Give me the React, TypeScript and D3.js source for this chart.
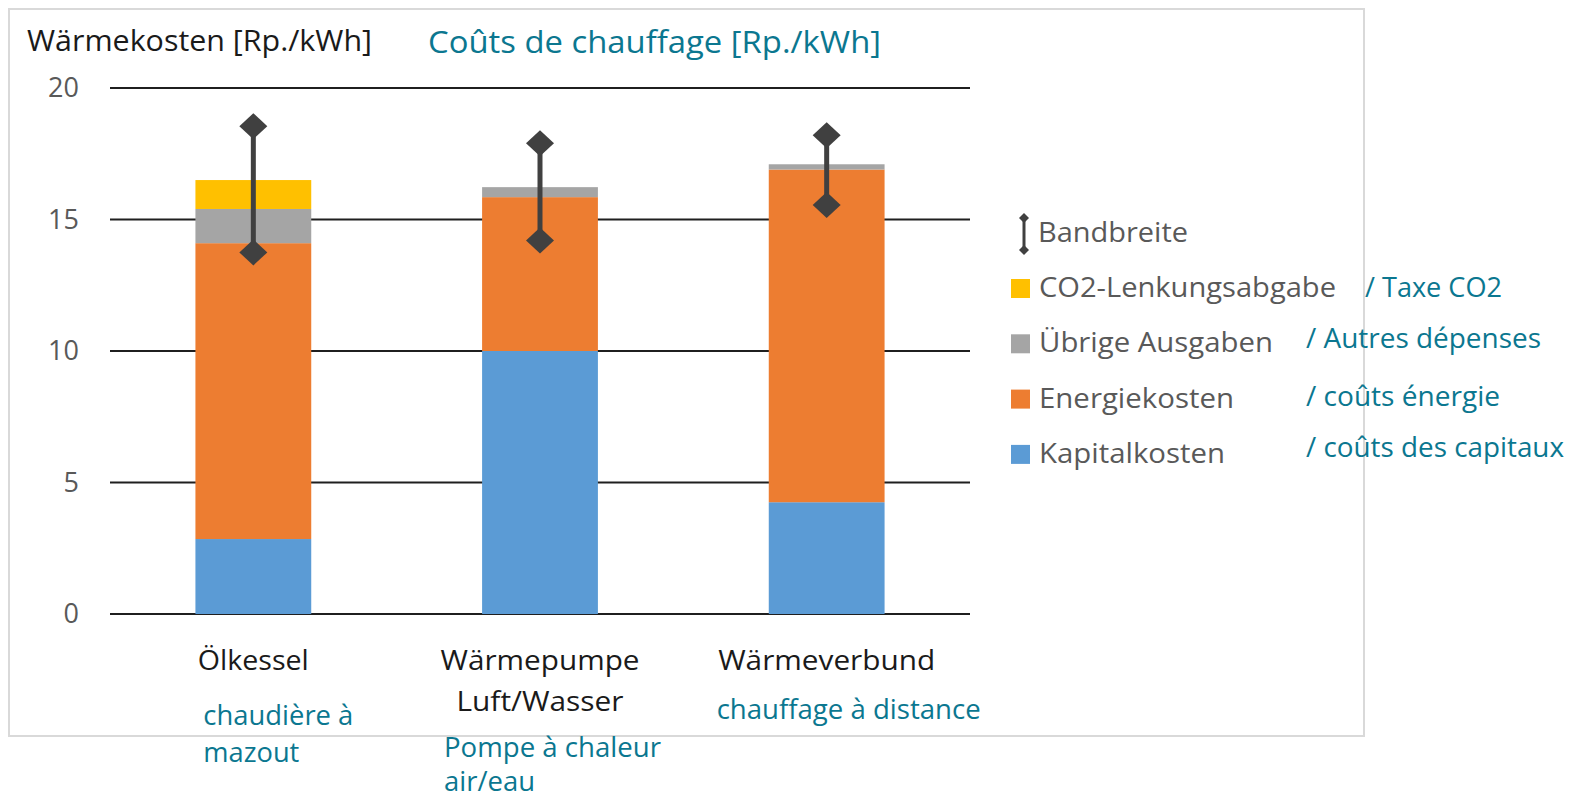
import React, { useEffect, useRef } from 'react';
import * as d3 from 'd3';

// values (Rp./kWh)
const categories = ['Ölkessel', 'Wärmepumpe Luft/Wasser', 'Wärmeverbund'];
const kapitalkosten = [2.85, 10.0, 4.25];
const energiekosten = [11.25, 5.85, 12.65];
const uebrigeAusgaben = [1.3, 0.38, 0.2];
const co2Abgabe = [1.1, 0, 0];
const bandLow = [13.75, 14.2, 15.55];
const bandHigh = [18.55, 17.9, 18.2];
const yTicks = [0, 5, 10, 15, 20];

const labelsDe = [['Ölkessel'], ['Wärmepumpe', 'Luft/Wasser'], ['Wärmeverbund']];
const labelsFr = [['chaudière à', 'mazout'], ['Pompe à chaleur', 'air/eau'], ['chauffage à distance']];

const seriesKeys = ['kapital', 'energie', 'uebrige', 'co2'];
const legendDe = ['CO2-Lenkungsabgabe', 'Übrige Ausgaben', 'Energiekosten', 'Kapitalkosten'];
const legendFr = ['/ Taxe CO2', '/ Autres dépenses', '/ coûts énergie', '/ coûts des capitaux'];

const colors: Record<string, string> = {
  kapital: '#5b9bd5',
  energie: '#ed7d31',
  uebrige: '#a5a5a5',
  co2: '#ffc000',
};
const legendKeys = ['co2', 'uebrige', 'energie', 'kapital'];

const TEAL = '#0b7790';
const GREY_TXT = '#595959';
const FONT = '"Open Sans", "Noto Sans", sans-serif';

export default function App() {
  const ref = useRef<SVGSVGElement>(null);

  useEffect(() => {
    const svg = d3.select(ref.current);
    svg.selectAll('*').remove();

    const width = 1584;
    const height = 800;
    const plot = { left: 110, right: 970, top: 88, bottom: 614 };

    svg.attr('width', width).attr('height', height);
    svg.append('rect').attr('width', width).attr('height', height).attr('fill', '#fff');

    // frame
    svg
      .append('rect')
      .attr('x', 9)
      .attr('y', 9)
      .attr('width', 1355)
      .attr('height', 727)
      .attr('fill', 'none')
      .attr('stroke', '#d9d9d9')
      .attr('stroke-width', 2);

    const x = d3
      .scaleBand<string>()
      .domain(categories)
      .range([plot.left, plot.right])
      .paddingInner(0.596)
      .paddingOuter(0.298);
    const y = d3.scaleLinear().domain([0, 20]).range([plot.bottom, plot.top]);

    // gridlines + tick labels
    const grid = svg.append('g');
    grid
      .selectAll('line')
      .data(yTicks)
      .join('line')
      .attr('x1', plot.left)
      .attr('x2', plot.right)
      .attr('y1', (d) => y(d))
      .attr('y2', (d) => y(d))
      .attr('stroke', '#1f1f1f')
      .attr('stroke-width', 2);
    grid
      .selectAll('text')
      .data(yTicks)
      .join('text')
      .attr('x', 79)
      .attr('y', (d) => y(d) + 9)
      .attr('text-anchor', 'end')
      .attr('font-family', FONT)
      .attr('font-size', 27)
      .attr('fill', GREY_TXT)
      .text((d) => d);

    // stacked bars
    const rows = categories.map((c, i) => ({
      cat: c,
      kapital: kapitalkosten[i],
      energie: energiekosten[i],
      uebrige: uebrigeAusgaben[i],
      co2: co2Abgabe[i],
    }));
    const stacked = d3.stack<any>().keys(seriesKeys)(rows);
    svg
      .append('g')
      .selectAll('g')
      .data(stacked)
      .join('g')
      .attr('fill', (s) => colors[s.key])
      .selectAll('rect')
      .data((s) => s)
      .join('rect')
      .attr('x', (d) => x(d.data.cat) as number)
      .attr('width', x.bandwidth())
      .attr('y', (d) => y(d[1]))
      .attr('height', (d) => Math.max(0, y(d[0]) - y(d[1])));

    // range bars (Bandbreite)
    const diamond = (cx: number, cy: number, w: number, h: number) =>
      `M${cx},${cy - h / 2}L${cx + w / 2},${cy}L${cx},${cy + h / 2}L${cx - w / 2},${cy}Z`;
    const band = svg.append('g');
    categories.forEach((c, i) => {
      const cx = (x(c) as number) + x.bandwidth() / 2;
      band
        .append('line')
        .attr('x1', cx)
        .attr('x2', cx)
        .attr('y1', y(bandHigh[i]))
        .attr('y2', y(bandLow[i]))
        .attr('stroke', '#404040')
        .attr('stroke-width', 5);
      [bandHigh[i], bandLow[i]].forEach((v) => {
        band.append('path').attr('d', diamond(cx, y(v), 28, 26)).attr('fill', '#404040');
      });
    });

    // category labels
    const textLen: Record<string, number> = {
      'Ölkessel': 111,
      'Wärmepumpe': 199,
      'Luft/Wasser': 167,
      'Wärmeverbund': 217,
      'chaudière à': 150,
      'mazout': 96,
      'Pompe à chaleur': 217,
      'air/eau': 91,
      'chauffage à distance': 264,
    };
    const frOffset = [-50, -96, -110];
    const frTop = [725, 757, 719];
    const frStep = [37, 34, 37];
    categories.forEach((c, i) => {
      const cx = (x(c) as number) + x.bandwidth() / 2;
      labelsDe[i].forEach((t, j) => {
        svg
          .append('text')
          .attr('x', cx)
          .attr('y', 670 + j * 41)
          .attr('text-anchor', 'middle')
          .attr('font-family', FONT)
          .attr('font-size', 28)
          .attr('fill', '#1a1a1a')
          .attr('textLength', textLen[t])
          .attr('lengthAdjust', 'spacingAndGlyphs')
          .text(t);
      });
      labelsFr[i].forEach((t, j) => {
        svg
          .append('text')
          .attr('x', cx + frOffset[i])
          .attr('y', frTop[i] + j * frStep[i])
          .attr('font-family', FONT)
          .attr('font-size', 27)
          .attr('fill', TEAL)
          .attr('textLength', textLen[t])
          .attr('lengthAdjust', 'spacingAndGlyphs')
          .text(t);
      });
    });

    // titles
    svg
      .append('text')
      .attr('x', 27)
      .attr('y', 51)
      .attr('font-family', FONT)
      .attr('font-size', 29)
      .attr('fill', '#1a1a1a')
      .attr('textLength', 345)
      .attr('lengthAdjust', 'spacingAndGlyphs')
      .text('Wärmekosten [Rp./kWh]');
    svg
      .append('text')
      .attr('x', 428)
      .attr('y', 53)
      .attr('font-family', FONT)
      .attr('font-size', 31)
      .attr('fill', TEAL)
      .attr('textLength', 453)
      .attr('lengthAdjust', 'spacingAndGlyphs')
      .text('Coûts de chauffage [Rp./kWh]');

    // legend
    const lg = svg.append('g');
    const iconX = 1024;
    lg.append('line')
      .attr('x1', iconX)
      .attr('x2', iconX)
      .attr('y1', 218)
      .attr('y2', 250)
      .attr('stroke', '#404040')
      .attr('stroke-width', 3);
    [218, 250].forEach((cy) => {
      lg.append('path').attr('d', diamond(iconX, cy, 10, 10)).attr('fill', '#404040');
    });
    lg.append('text')
      .attr('x', 1038)
      .attr('y', 242)
      .attr('font-family', FONT)
      .attr('font-size', 27)
      .attr('fill', GREY_TXT)
      .attr('textLength', 150)
      .attr('lengthAdjust', 'spacingAndGlyphs')
      .text('Bandbreite');

    const deLen = [297, 234, 195, 186];
    const frX = [1365, 1306, 1306, 1306];
    const frLen = [137, 235, 194, 258];
    const frDy = [0, -4, -2, -6];
    legendKeys.forEach((k, i) => {
      const rowY = 297 + i * 55.3;
      lg.append('rect')
        .attr('x', 1011)
        .attr('y', rowY - 18)
        .attr('width', 19)
        .attr('height', 19)
        .attr('fill', colors[k]);
      lg.append('text')
        .attr('x', 1039)
        .attr('y', rowY)
        .attr('font-family', FONT)
        .attr('font-size', 27)
        .attr('fill', GREY_TXT)
        .attr('textLength', deLen[i])
        .attr('lengthAdjust', 'spacingAndGlyphs')
        .text(legendDe[i]);
      lg.append('text')
        .attr('x', frX[i])
        .attr('y', rowY + frDy[i])
        .attr('font-family', FONT)
        .attr('font-size', 27)
        .attr('fill', TEAL)
        .attr('textLength', frLen[i])
        .attr('lengthAdjust', 'spacingAndGlyphs')
        .text(legendFr[i]);
    });
  }, []);

  return (
    <div style={{ position: 'absolute', left: 0, top: 0 }}>
      <svg ref={ref} style={{ display: 'block' }} />
    </div>
  );
}
